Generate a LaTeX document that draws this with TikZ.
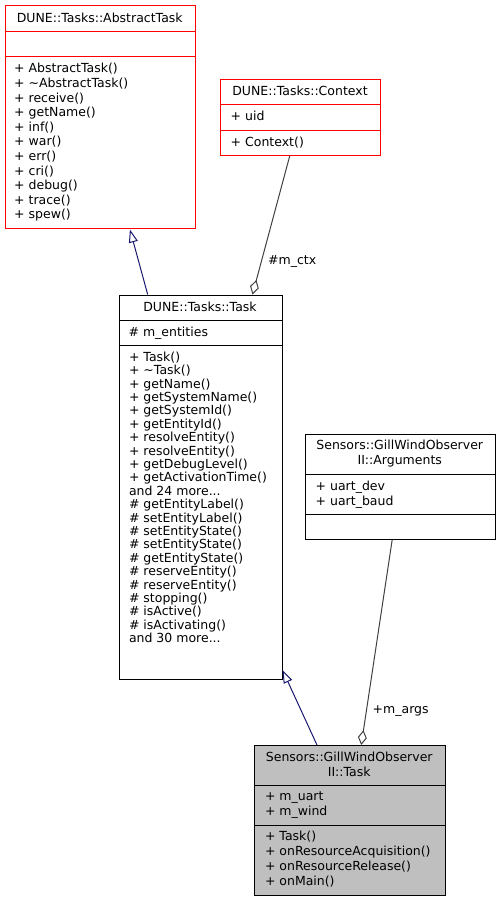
\documentclass[tikz,border=0pt]{standalone}
\usepackage{fontspec}
\setmainfont{DejaVu Sans}
\usetikzlibrary{arrows.meta,calc}

\definecolor{edgeblue}{HTML}{191970}
\definecolor{edgegrey}{HTML}{404040}
\definecolor{classfill}{HTML}{BFBFBF}

\tikzset{
    classbox/.style={draw, rectangle, anchor=north west, inner sep=0, line width=1pt},
    title/.style={anchor=center, align=center, inner sep=0},
    member/.style={anchor=north west, align=left, inner sep=0},
    inherit/.style={draw=edgeblue, line width=1pt, -{Triangle[open, length=13pt, width=9pt]}},
    aggr/.style={draw=edgegrey, line width=1pt, {Diamond[open, length=15pt, width=9pt]}-},
}

\begin{document}
\begin{tikzpicture}[x=1pt, y=-1pt, font=\fontsize{12.5}{15}\selectfont]
    \useasboundingbox (0, 0) rectangle (500, 901);

    % class boxes
    \node[classbox, draw=red, minimum width=190.5pt, minimum height=223pt] (abstract) at (4.5, 5.5) {};
    \node[classbox, draw=red, minimum width=160pt, minimum height=76pt] (context) at (220, 79) {};
    \node[classbox, minimum width=163pt, minimum height=384pt] (task) at (118.5, 294.5) {};
    \node[classbox, minimum width=189.5pt, minimum height=105pt] (args) at (305, 434) {};
    \node[classbox, fill=classfill, minimum width=190.5pt, minimum height=149.5pt] (gwtask) at (254, 745) {};

    % compartment lines
    \draw[red] (abstract.west |- 0, 31.5) -- (abstract.east |- 0, 31.5);
    \draw[red] (abstract.west |- 0, 56.5) -- (abstract.east |- 0, 56.5);
    \draw[red] (context.west |- 0, 104) -- (context.east |- 0, 104);
    \draw[red] (context.west |- 0, 130) -- (context.east |- 0, 130);
    \draw (task.west |- 0, 320) -- (task.east |- 0, 320);
    \draw (task.west |- 0, 345) -- (task.east |- 0, 345);
    \draw (args.west |- 0, 474) -- (args.east |- 0, 474);
    \draw (args.west |- 0, 514) -- (args.east |- 0, 514);
    \draw (gwtask.west |- 0, 785.5) -- (gwtask.east |- 0, 785.5);
    \draw (gwtask.west |- 0, 825) -- (gwtask.east |- 0, 825);

    % DUNE::Tasks::AbstractTask
    \node[title] (abstitle) at (99.75, 18) {DUNE::Tasks::AbstractTask};
    \node[member, font=\fontsize{12.5}{14.6}\selectfont] (absops) at (14, 63.2)
        {+ AbstractTask()\\+ \textasciitilde AbstractTask()\\+ receive()\\+ getName()\\+ inf()\\+ war()\\+ err()\\+ cri()\\+ debug()\\+ trace()\\+ spew()};

    % DUNE::Tasks::Context
    \node[title] (ctxtitle) at (300, 91) {DUNE::Tasks::Context};
    \node[member] (ctxattr) at (230.5, 111) {+ uid};
    \node[member] (ctxops) at (230.5, 136.6) {+ Context()};

    % DUNE::Tasks::Task
    \node[title] (tasktitle) at (200, 307) {DUNE::Tasks::Task};
    \node[member] (taskattr) at (128.4, 326.6) {\# m\_entities};
    \node[member, font=\fontsize{12.5}{13.4}\selectfont] (taskops) at (128.8, 351.6)
        {+ Task()\\+ \textasciitilde Task()\\+ getName()\\+ getSystemName()\\+ getSystemId()\\+ getEntityId()\\+ resolveEntity()\\+ resolveEntity()\\+ getDebugLevel()\\+ getActivationTime()\\and 24 more...\\\# getEntityLabel()\\\# setEntityLabel()\\\# setEntityState()\\\# setEntityState()\\\# getEntityState()\\\# reserveEntity()\\\# reserveEntity()\\\# stopping()\\\# isActive()\\\# isActivating()\\and 30 more...};

    % Sensors::GillWindObserverII::Arguments
    \node[title] (argstitle) at (399.75, 453.2) {Sensors::GillWindObserver\\II::Arguments};
    \node[member] (argsattr) at (315.5, 480.6) {+ uart\_dev\\+ uart\_baud};

    % Sensors::GillWindObserverII::Task
    \node[title] (gwtitle) at (349.25, 763.9) {Sensors::GillWindObserver\\II::Task};
    \node[member] (gwattr) at (264.8, 791.6) {+ m\_uart\\+ m\_wind};
    \node[member] (gwops) at (264.8, 830.6)
        {+ Task()\\+ onResourceAcquisition()\\+ onResourceRelease()\\+ onMain()};

    % inheritance
    \draw[inherit] ($(task.north west)!0.178!(task.north east)$) -- ($(abstract.south west)!0.655!(abstract.south east)$);
    \draw[inherit] ($(gwtask.north west)!0.329!(gwtask.north east)$) -- ($(task.south east) + (0, -9.5)$);

    % aggregation
    \draw[aggr] ($(task.north west)!0.817!(task.north east)$) -- ($(context.south west)!0.433!(context.south east)$);
    \node[anchor=west, inner sep=0] (ctxlabel) at (268, 261) {\#m\_ctx};
    \draw[aggr] ($(gwtask.north west)!0.56!(gwtask.north east)$) -- ($(args.south west)!0.4575!(args.south east)$);
    \node[anchor=west, inner sep=0] (argslabel) at (372.5, 710.7) {+m\_args};
\end{tikzpicture}
\end{document}
